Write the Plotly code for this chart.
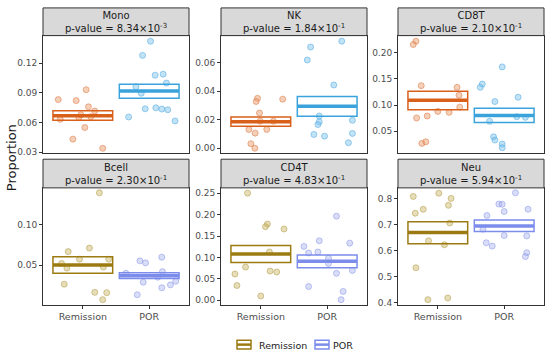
import plotly.graph_objects as go

# ---------------- data ----------------
panels = ["Mono", "NK", "CD8T", "Bcell", "CD4T", "Neu"]
p_mant = ["8.34", "1.84", "2.10", "2.30", "4.83", "5.94"]
p_exp = ["-3", "-1", "-1", "-1", "-1", "-1"]
groups = ["Remission", "POR"]

# crossbar stats: (lower, middle, upper)
rem_box = {
    "Mono": (0.0623, 0.067, 0.072),
    "NK": (0.0155, 0.0185, 0.0219),
    "CD8T": (0.091, 0.1092, 0.1262),
    "Bcell": (0.0398, 0.050, 0.0602),
    "CD4T": (0.0882, 0.108, 0.128),
    "Neu": (0.6264, 0.6692, 0.7107),
}
por_box = {
    "Mono": (0.0847, 0.092, 0.0987),
    "NK": (0.0224, 0.0295, 0.0362),
    "CD8T": (0.0664, 0.0802, 0.094),
    "Bcell": (0.0333, 0.037, 0.0407),
    "CD4T": (0.0759, 0.0913, 0.1058),
    "Neu": (0.673, 0.6943, 0.717),
}

rem_vals = {
    "Mono": [0.0833, 0.0823, 0.0933, 0.076, 0.0717, 0.0633, 0.065, 0.055, 0.0433, 0.034, 0.068, 0.066],
    "NK": [0.035, 0.0328, 0.0344, 0.0247, 0.0132, 0.0132, 0.0106, 0.0032, 0.0, 0.019, 0.019],
    "CD8T": [0.222, 0.2157, 0.137, 0.1338, 0.1187, 0.096, 0.0752, 0.079, 0.0878, 0.086, 0.0267, 0.0298],
    "Bcell": [0.1394, 0.0667, 0.0711, 0.0573, 0.0573, 0.052, 0.0463, 0.0476, 0.0264, 0.0163, 0.0159, 0.0073],
    "CD4T": [0.25, 0.178, 0.1718, 0.1664, 0.1127, 0.0775, 0.0613, 0.0683, 0.066, 0.0345, 0.01],
    "Neu": [0.820, 0.8075, 0.800, 0.7585, 0.7736, 0.7434, 0.7057, 0.6377, 0.6226, 0.5346, 0.4189, 0.4126],
}
rem_jit = {
    "Mono": [-0.37, -0.10, 0.05, 0.085, 0.18, -0.34, -0.06, 0.03, -0.15, 0.30, -0.03, 0.12],
    "NK": [-0.05, -0.07, 0.33, -0.02, 0.09, -0.18, -0.085, -0.15, -0.09, -0.01, 0.19],
    "CD8T": [-0.33, -0.37, -0.25, 0.29, 0.32, 0.33, -0.32, -0.16, 0.0, 0.17, -0.24, -0.18],
    "Bcell": [0.25, -0.22, 0.10, -0.05, 0.39, -0.32, -0.24, 0.31, -0.28, 0.18, 0.36, 0.30],
    "CD4T": [-0.20, 0.10, 0.07, 0.35, 0.13, -0.23, -0.39, 0.14, 0.24, -0.36, 0.0],
    "Neu": [0.015, -0.37, 0.20, -0.22, 0.16, -0.34, 0.18, -0.14, 0.10, -0.33, 0.15, -0.15],
}
por_vals = {
    "Mono": [0.1423, 0.128, 0.108, 0.109, 0.100, 0.0963, 0.0897, 0.074, 0.075, 0.0737, 0.073, 0.0657, 0.0617],
    "NK": [0.0709, 0.075, 0.0618, 0.0443, 0.0226, 0.0185, 0.0166, 0.0196, 0.0097, 0.0085, 0.0104, 0.0039],
    "CD8T": [0.1729, 0.140, 0.1338, 0.1149, 0.1067, 0.0689, 0.0777, 0.0765, 0.0393, 0.033, 0.0254, 0.0185],
    "Bcell": [0.0598, 0.0553, 0.0528, 0.0419, 0.0398, 0.035, 0.0289, 0.030, 0.0256, 0.022, 0.0134],
    "CD4T": [0.1963, 0.1388, 0.1258, 0.1334, 0.1104, 0.1127, 0.0982, 0.0859, 0.0698, 0.0629, 0.0322, 0.0207, 0.0015],
    "Neu": [0.8214, 0.7786, 0.7774, 0.7497, 0.7585, 0.7346, 0.6818, 0.6579, 0.6566, 0.6302, 0.6176, 0.5925, 0.5774],
}
por_jit = {
    "Mono": [0.02, -0.10, 0.09, 0.21, 0.26, -0.20, -0.12, -0.06, 0.10, 0.19, 0.28, -0.31, 0.39],
    "NK": [-0.25, 0.22, -0.30, 0.10, -0.12, -0.12, -0.14, 0.38, -0.20, -0.04, 0.38, 0.32],
    "CD8T": [-0.03, -0.33, -0.36, 0.21, -0.14, -0.22, 0.19, 0.32, -0.16, -0.14, -0.03, -0.03],
    "Bcell": [0.19, -0.14, -0.055, 0.20, -0.35, 0.13, -0.09, 0.40, 0.32, 0.19, -0.18],
    "CD4T": [0.14, -0.12, -0.35, 0.34, -0.28, -0.14, 0.02, 0.02, 0.38, 0.14, -0.28, 0.24, 0.21],
    "Neu": [0.17, -0.08, -0.03, 0.0, 0.36, -0.26, -0.32, 0.0, 0.34, -0.27, -0.18, 0.34, 0.32],
}

y_ticks = {
    "Mono": [0.03, 0.06, 0.09, 0.12],
    "NK": [0.00, 0.02, 0.04, 0.06],
    "CD8T": [0.05, 0.10, 0.15, 0.20],
    "Bcell": [0.05, 0.10],
    "CD4T": [0.00, 0.05, 0.10, 0.15, 0.20, 0.25],
    "Neu": [0.4, 0.5, 0.6, 0.7, 0.8],
}
y_ticktext = {
    "Mono": ["0.03", "0.06", "0.09", "0.12"],
    "NK": ["0.00", "0.02", "0.04", "0.06"],
    "CD8T": ["0.05", "0.10", "0.15", "0.20"],
    "Bcell": ["0.05", "0.10"],
    "CD4T": ["0.00", "0.05", "0.10", "0.15", "0.20", "0.25"],
    "Neu": ["0.4", "0.5", "0.6", "0.7", "0.8"],
}

# ---------------- layout / style ----------------
W, H = 550, 360
y_range = {
    "Mono": [0.029, 0.148],
    "NK": [-0.0035, 0.0789],
    "CD8T": [0.0078, 0.2327],
    "Bcell": [0.0012, 0.1455],
    "CD4T": [-0.010, 0.2623],
    "Neu": [0.3937, 0.8403],
}
x_dom = [(43 / W, 189 / W), (221 / W, 367 / W), (398 / W, 544 / W)]
row_pix = [(36, 155, 8), (190, 308, 161)]  # plot top, plot bottom, strip top

top_colors = dict(rem_box="#D9601A", rem_pt="rgba(232,150,100,0.45)", rem_ln="rgba(220,120,70,0.55)",
                  por_box="#3AA3DC", por_pt="rgba(120,190,235,0.45)", por_ln="rgba(80,170,225,0.55)")
bot_colors = dict(rem_box="#9C7A12", rem_pt="rgba(200,180,100,0.45)", rem_ln="rgba(175,150,60,0.5)",
                  por_box="#7B8CEB", por_pt="rgba(170,180,240,0.45)", por_ln="rgba(130,145,230,0.5)")

FONT = "DejaVu Sans"
fig = go.Figure()
shapes = []
annotations = []
layout_axes = {}

for i, name in enumerate(panels):
    r, c = divmod(i, 3)
    cols = top_colors if r == 0 else bot_colors
    ax = "" if i == 0 else str(i + 1)
    xref, yref = "x" + ax, "y" + ax
    ptop, pbot, stop = row_pix[r]
    ydom = ((H - pbot) / H, (H - ptop) / H)

    for gi, (vals, jit, pc, lc) in enumerate([
        (rem_vals[name], rem_jit[name], cols["rem_pt"], cols["rem_ln"]),
        (por_vals[name], por_jit[name], cols["por_pt"], cols["por_ln"]),
    ]):
        xs = [gi + 1 + j for j in jit]
        fig.add_trace(go.Scatter(
            x=xs, y=vals, mode="markers", xaxis=xref, yaxis=yref, showlegend=False,
            marker=dict(size=6, color=pc, line=dict(color=lc, width=1)), hoverinfo="y"))

    for gi, (box, bc) in enumerate([(rem_box[name], cols["rem_box"]), (por_box[name], cols["por_box"])]):
        cx = gi + 1
        lo, mid, hi = box
        shapes.append(dict(type="rect", xref=xref, yref=yref, x0=cx - 0.45, x1=cx + 0.45, y0=lo, y1=hi,
                           line=dict(color=bc, width=1.5), fillcolor="rgba(0,0,0,0)", layer="above"))
        shapes.append(dict(type="line", xref=xref, yref=yref, x0=cx - 0.45, x1=cx + 0.45, y0=mid, y1=mid,
                           line=dict(color=bc, width=3.5), layer="above"))

    layout_axes["xaxis" + ax] = dict(
        domain=list(x_dom[c]), anchor=yref, range=[0.4, 2.6], tickvals=[1, 2],
        ticktext=groups if r == 1 else ["", ""], ticks="outside" if r == 1 else "",
        ticklen=3, tickcolor="#333333", showticklabels=(r == 1),
        showgrid=False, zeroline=False, showline=True, mirror=True, linecolor="#333333", linewidth=1,
        tickfont=dict(family=FONT, size=9.5, color="#4D4D4D"), fixedrange=True)
    layout_axes["yaxis" + ax] = dict(
        domain=list(ydom), anchor=xref, range=y_range[name], tickvals=y_ticks[name],
        ticktext=y_ticktext[name], ticks="outside", ticklen=3, tickcolor="#333333",
        showgrid=False, zeroline=False, showline=True, mirror=True, linecolor="#333333", linewidth=1,
        tickfont=dict(family=FONT, size=9, color="#4D4D4D"), fixedrange=True)

    # strip
    x0, x1 = x_dom[c]
    shapes.append(dict(type="rect", xref="paper", yref="paper", x0=x0, x1=x1,
                       y0=(H - ptop) / H, y1=(H - stop) / H,
                       fillcolor="#D9D9D9", line=dict(color="#333333", width=1)))
    annotations.append(dict(
        xref="paper", yref="paper", x=(x0 + x1) / 2, y=(H - (ptop + stop) / 2) / H,
        text=f"{name}<br>p-value = {p_mant[i]}×10<sup>{p_exp[i]}</sup>",
        showarrow=False, xanchor="center", yanchor="middle",
        font=dict(family=FONT, size=10, color="#1A1A1A")))

# y-axis title
annotations.append(dict(xref="paper", yref="paper", x=11 / W, y=(H - 160) / H, text="Proportion",
                        textangle=-90, showarrow=False, xanchor="center", yanchor="middle",
                        font=dict(family=FONT, size=13, color="#1A1A1A")))

# legend (manual keys)
leg = [("Remission", bot_colors["rem_box"], 237, 257), ("POR", bot_colors["por_box"], 315, 331)]
for lab, col, kx, tx in leg:
    shapes.append(dict(type="rect", xref="paper", yref="paper", x0=kx / W, x1=(kx + 14) / W,
                       y0=(H - 353) / H, y1=(H - 344) / H, line=dict(color=col, width=1.5),
                       fillcolor="rgba(0,0,0,0)"))
    shapes.append(dict(type="line", xref="paper", yref="paper", x0=kx / W, x1=(kx + 14) / W,
                       y0=(H - 348.5) / H, y1=(H - 348.5) / H, line=dict(color=col, width=2.5)))
    annotations.append(dict(xref="paper", yref="paper", x=tx / W, y=(H - 349) / H, text=lab,
                            showarrow=False, xanchor="left", yanchor="middle",
                            font=dict(family=FONT, size=9.5, color="#1A1A1A")))

fig.update_layout(
    width=W, height=H, margin=dict(l=0, r=0, t=0, b=0),
    paper_bgcolor="white", plot_bgcolor="white", showlegend=False,
    shapes=shapes, annotations=annotations, **layout_axes)

fig.write_html("out.html", config={"displayModeBar": False},
               post_script="document.body.style.margin='0';")
